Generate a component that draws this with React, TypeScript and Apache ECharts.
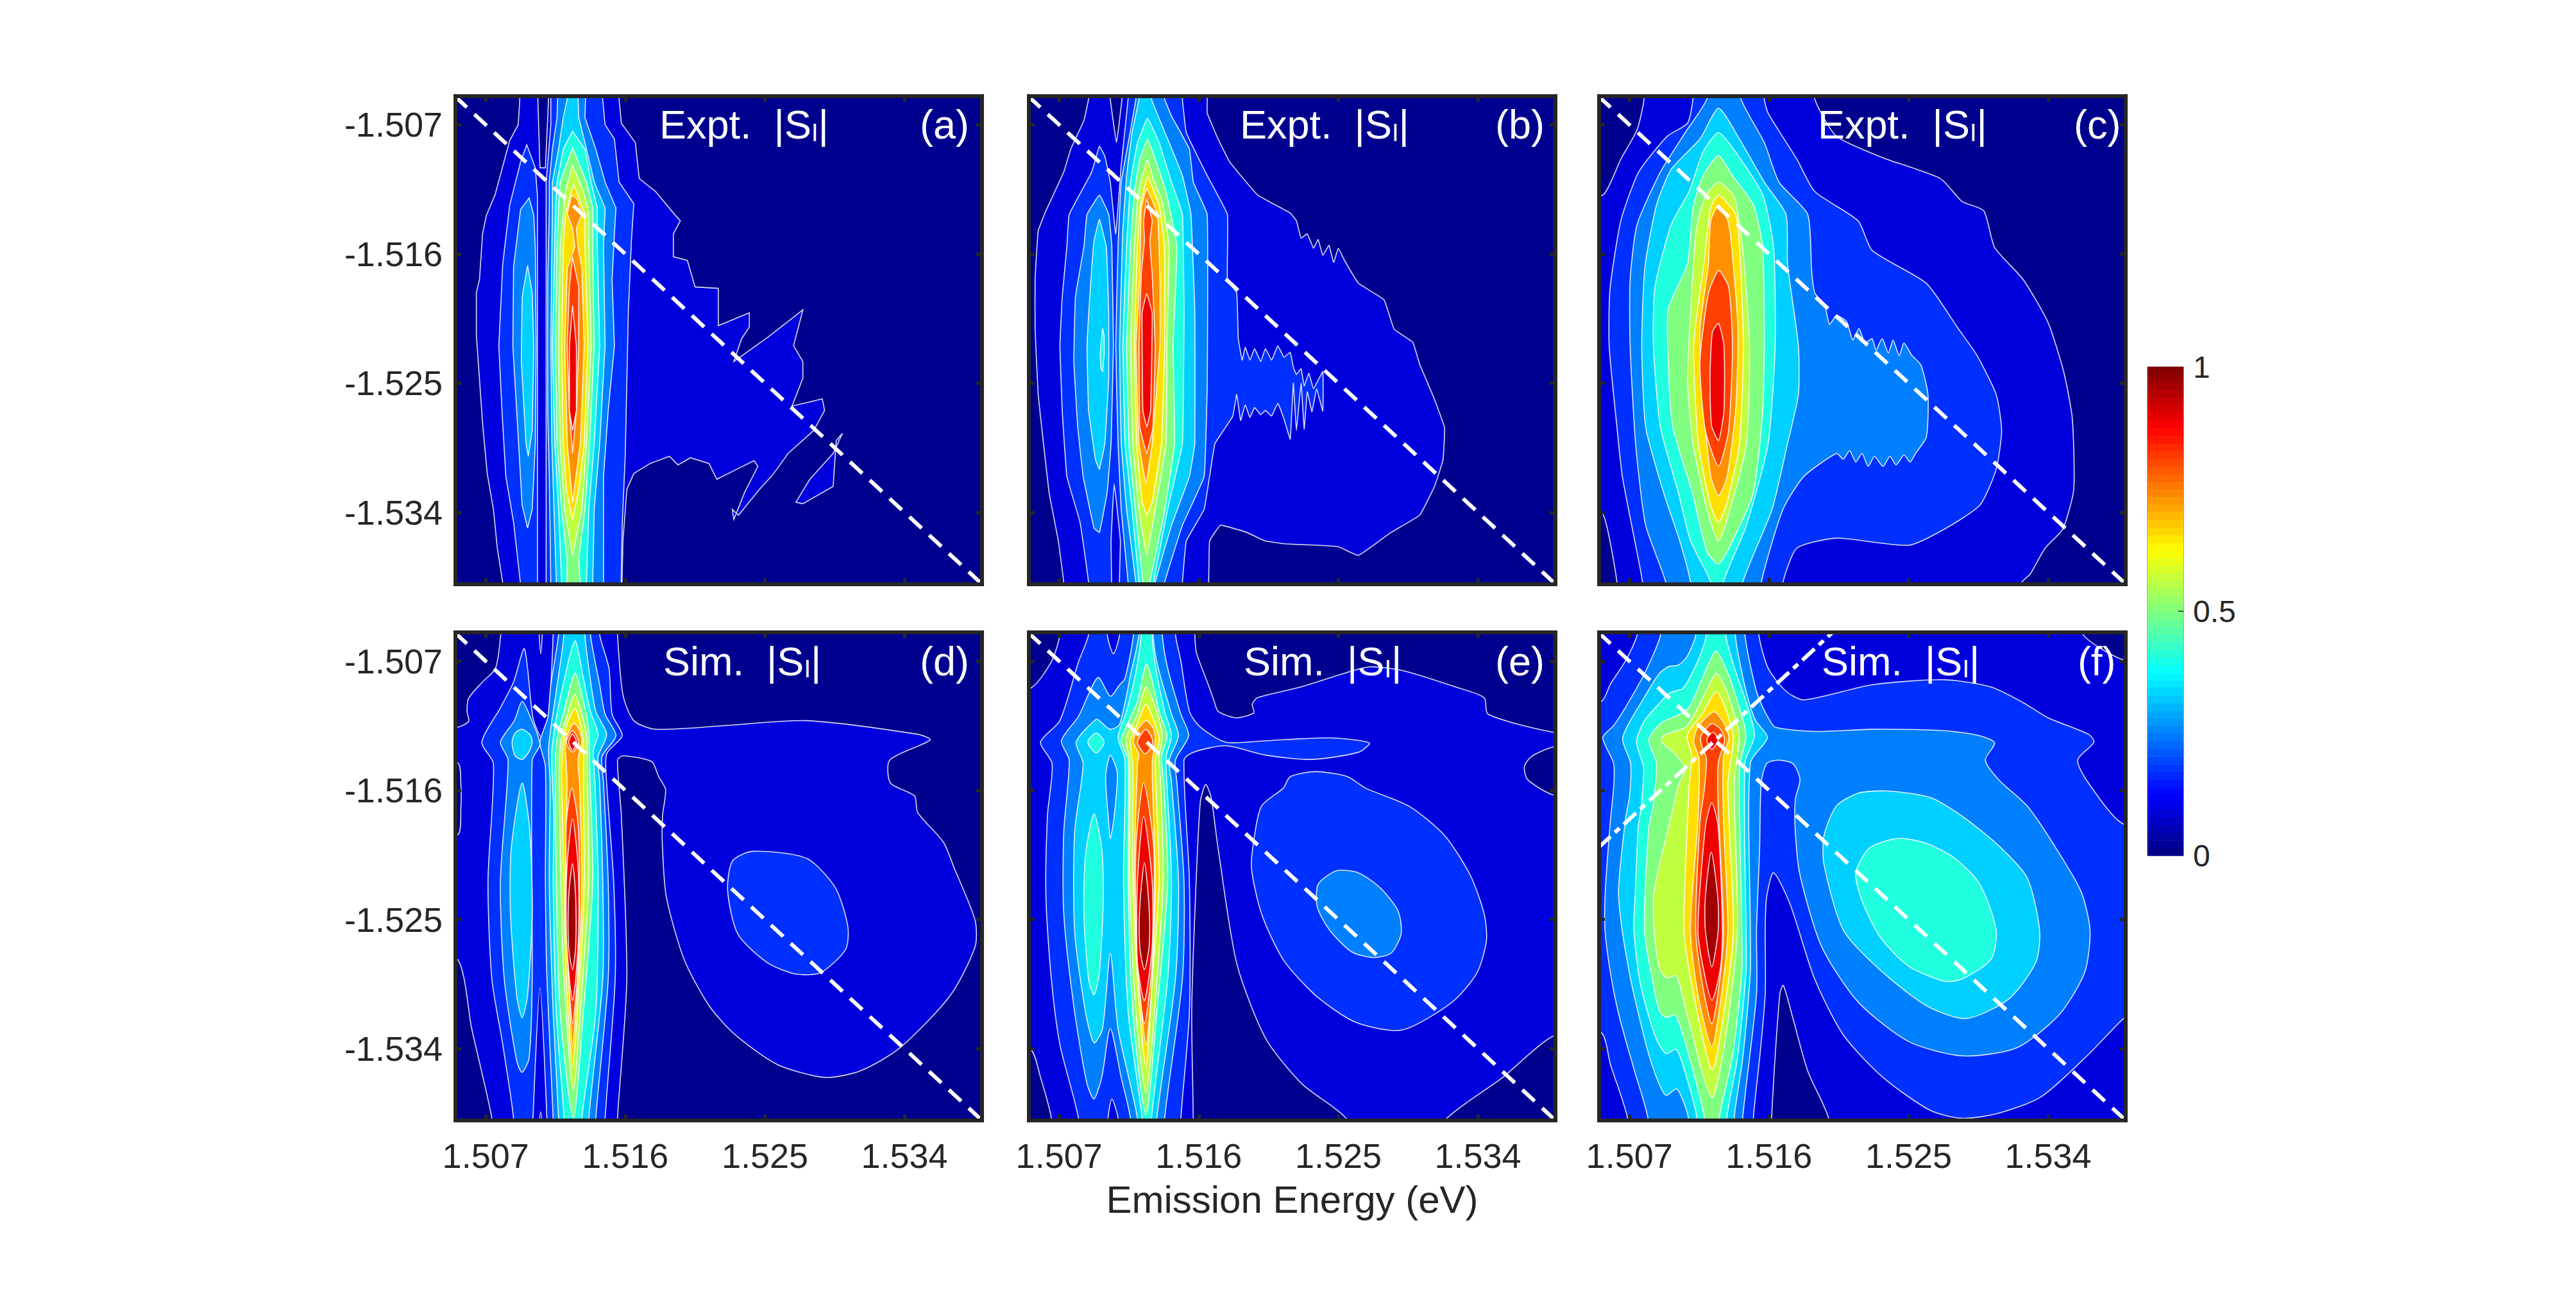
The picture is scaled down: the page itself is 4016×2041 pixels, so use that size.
import React, { useEffect, useRef } from 'react';
import * as echarts from 'echarts';

// contour points are flat lists of x,y in meV above 1.5 eV (emission, |excitation|)
type Contour = [number, number[]];

const energyTicks = [1.507, 1.516, 1.525, 1.534];
const colorbarLabels = [0, 0.5, 1];
const levelColors = ['#00008F', '#0000DC', '#0030FF', '#0080FF', '#00D0FF', '#20FFDF', '#80FF80', '#BFFF40', '#FFDF00', '#FF9000', '#FF4000', '#EE0000', '#A00000'];
const panelTitles = ['Expt.', 'Expt.', 'Expt.', 'Sim.', 'Sim.', 'Sim.'];
const panelTags = ['(a)', '(b)', '(c)', '(d)', '(e)', '(f)'];

const contoursA: Contour[] = [
  [1, [9.2,3, 9.2,5.2, 9.1,7, 8.55,8.1, 8.05,10.1, 7.6,11.9, 7.05,13.3, 6.8,14.6, 6.6,17.8, 6.4,18.7, 6.4,21.7, 6.6,24.7, 6.8,27.8, 7.1,31.3, 7.5,33.8, 7.75,36.5, 8.1,38.9, 8.1,41, 15.75,41, 15.85,36, 16.1,32.4, 16.55,31.3, 17.6,30.6, 18.85,30.1, 19.4,30.7, 20.2,30.2, 21.4,30.6, 21.9,31.7, 23,31.1, 24.3,30.4, 24.55,30.8, 23.7,32.6, 23,34.5, 22.9,33.8, 23.3,34.2, 24.65,32.4, 25.5,31.4, 26.5,29.9, 28.15,28.3, 28.85,26.9, 28.7,26.1, 26.75,26.6, 27.45,24.65, 27.45,23.5, 26.85,22.4, 27.45,19.9, 25.2,21.8, 23,23.5, 23.5,21.9, 24,21.1, 24,20.1, 22,21, 22,18.4, 20.5,18.3, 20,16.45, 19.1,16.2, 19.1,14.6, 19.55,13.7, 19.1,13.15, 17.95,11.65, 16.9,10.75, 16.65,8.25, 15.75,6.9, 15.6,5.2, 15.6,3]],
  [1, [27,33.3, 27.9,31.7, 29.4,29.9, 30,28.5, 29.6,29, 29.4,32.2, 27.45,33.4]],
  [0, [10.3,3, 11.15,3, 10.85,10, 10.5,10]],
  [2, [9.65,8.4, 9.25,9.6, 8.55,12.6, 8.1,16.7, 7.85,22.4, 8.05,26.9, 8.3,31.5, 8.8,34.7, 9.25,39, 9.3,41, 10.34,41, 10.34,12, 10.2,10]],
  [3, [9.8,12.1, 9.25,12.9, 8.8,16.9, 8.75,22.4, 9,26.9, 9.35,33.5, 9.7,35.1, 10,33.8, 10.2,29.2, 10.25,22.4, 10.2,15.5, 10.1,13.3]],
  [4, [9.7,16.8, 9.35,19, 9.3,23.5, 9.6,29.2, 9.75,30.1, 10,28.3, 10.1,22.4, 10,18.7]],
  [2, [11.2,3, 11.2,7, 10.9,11, 10.9,13, 10.9,41, 15.7,41, 15.8,35, 16,30, 16.1,25, 16.2,20, 16.4,15, 16.55,12.5, 15.6,11, 15.3,8, 14.7,7, 14.35,3]],
  [3, [11.7,3, 11.6,6.5, 11.3,8.7, 11.1,11, 11.1,13, 11,17.8, 11,22.4, 11,26.9, 11.1,31.5, 11.2,39, 11.2,41, 14.6,41, 14.6,31.5, 14.9,26.9, 15.3,22.4, 15.15,17.8, 15.3,14.6, 15.4,12.8, 14.7,11, 14.1,8.7, 13.4,6.5, 13.5,3]],
  [4, [12.26,3, 12.26,5.2, 12,6.5, 11.7,8.7, 11.3,11, 11.3,12.8, 11.27,15.5, 11.2,22.4, 11.27,29.2, 11.4,33.8, 11.56,39, 11.6,41, 13.9,41, 13.9,39, 14,33.8, 14.35,29.2, 14.7,22.4, 14.6,15.5, 14.7,12.8, 14,11, 13.5,8.7, 13,6.5, 12.96,5.2, 12.96,3]],
  [5, [12.6,7.45, 12,8.7, 11.6,11, 11.5,12.8, 11.45,15.5, 11.3,22.4, 11.45,29.2, 11.7,33.8, 11.9,39, 11.9,41, 13.5,41, 13.5,39, 13.65,33.8, 14,29.2, 14.35,22.4, 14.2,15.5, 14.2,12.8, 13.8,11, 13.4,8.7]],
  [6, [12.6,8.6, 11.8,11, 11.7,12.8, 11.6,15.5, 11.5,22.4, 11.6,29.2, 11.9,33.8, 12.25,37.3, 12.2,41, 13.2,41, 13,37.3, 13.4,33.8, 13.7,29.2, 14,22.4, 13.9,15.5, 13.9,12.8, 13.5,11]],
  [7, [12.6,9.85, 12.15,11.6, 12,13.2, 11.8,15.5, 11.7,22.4, 11.8,29.2, 12.1,33.8, 12.6,37, 13.2,33.8, 13.5,29.2, 13.8,22.4, 13.65,15.5, 13.65,13.2, 13.3,11.6]],
  [8, [12.65,11.1, 12.15,13.2, 12,15.5, 11.9,22.4, 12,29.2, 12.2,32.4, 12.6,34.5, 13,32.4, 13.35,29.2, 13.6,22.4, 13.4,15.5, 13.4,13.2]],
  [9, [12.55,11.9, 12.26,13.2, 12.6,14.2, 12.75,15.5, 12.26,17, 12.1,22.4, 12.26,29.2, 12.6,33.3, 13.1,29.2, 13.35,22.4, 13.2,17, 12.95,15.5, 12.85,14.2, 13.2,13.2, 12.9,12.2]],
  [10, [12.6,16.2, 12.4,18.3, 12.25,22.4, 12.4,26.9, 12.6,29.9, 12.85,26.9, 13,22.4, 13,18.3]],
  [11, [12.6,19.6, 12.4,22.4, 12.4,26.9, 12.6,28.3, 12.85,26.9, 12.85,22.4]],
];

const contoursB: Contour[] = [
  [1, [8.9,3, 8.9,5.2, 8.6,6.7, 7.75,8.7, 7.3,10.3, 6.15,13, 5.65,14.4, 5.45,17.8, 5.45,21.2, 5.65,25.8, 5.9,28.3, 6.35,32.6, 6.95,36, 7.3,38.9, 7.3,41, 16.45,41, 16.7,36, 17.4,34.9, 19.1,35.4, 20.3,36, 21.6,36.2, 23.75,36.3, 25,36.4, 26.3,37, 28.4,35.4, 30.25,34.2, 31.2,32.2, 31.75,30.35, 31.85,28.1, 31.15,26, 30.25,23.7, 29.8,22.15, 28.6,21.25, 27.95,19.2, 26.3,18.05, 25.4,16.45, 25,15.6, 24.7,16.6, 24.4,15.4, 24,16.1, 23.7,15, 23.4,15.6, 23,14.6, 22.6,14.9, 22.3,13.7, 21.9,13.15, 19.8,11.9, 18,9.6, 17.25,8, 16.55,6.2, 16.55,5.2, 16.55,3]],
  [0, [10.3,3, 10.3,5.2, 10.7,8.25, 11.05,5.2, 11.05,3]],
  [2, [9.6,8.5, 9.1,10.3, 7.65,13.25, 7.5,15.5, 7.2,19, 7.05,22.4, 7.2,26.9, 7.5,31.5, 8.35,34.7, 8.9,38.9, 8.9,41, 10.35,41, 10.35,36, 10.55,32, 10.95,36, 10.95,41, 14.95,41, 14.95,38.9, 15.2,36, 16.35,33.8, 16.7,31.5, 17.05,29.2, 17.75,28.05, 18.2,27.3, 18.45,25.8, 18.7,27.6, 19,26.5, 19.3,27.4, 19.6,26.7, 20,27.2, 20.3,26.9, 20.7,27.3, 21.1,26.4, 21.5,27.5, 21.9,28.9, 22.1,25, 22.3,28.3, 22.6,25, 22.8,28.2, 23,25.6, 23.3,27, 23.6,25.4, 24,26.95, 24,24.2, 23.4,25.4, 23.1,24.3, 22.8,25.2, 22.6,24, 22.3,24.4, 22.1,23.9, 21.9,22.85, 21.5,23.2, 21.1,22.4, 20.7,23.4, 20.3,22.6, 20,23.5, 19.6,22.6, 19.3,23.4, 19,22.5, 18.8,23.4, 18.55,21.9, 18.45,18.7, 17.85,17.8, 17.85,13.25, 16.55,10.55, 15.2,7.55, 14.95,5.2, 14.95,3, 11.45,3, 11.45,5.2, 11,9.85, 10.65,14.6, 10.3,11, 9.95,9.2]],
  [3, [9.6,11.9, 8.8,13.25, 8.6,15.5, 8.05,19, 7.95,23.5, 8.2,28.05, 8.55,31.5, 9.25,35.1, 9.6,35.4, 10.1,32.6, 10.35,29.2, 10.5,22.4, 10.4,15.5, 10.2,13.25]],
  [4, [9.6,13.6, 9.25,15.1, 9.05,17.8, 8.8,22.4, 8.9,26.9, 9.35,30.35, 9.6,31, 9.95,29.2, 10.2,24.65, 10.2,20.1, 10.05,15.55]],
  [5, [9.8,21.2, 9.65,23, 9.7,24, 9.8,24.2, 9.9,23, 9.9,21.7]],
  [3, [12,3, 11.95,5.2, 11.5,8, 11,11, 10.8,15.5, 10.65,22.4, 10.8,29.2, 11,33.8, 11.45,38.9, 11.45,41, 13.8,41, 13.8,38.9, 14.95,34.9, 16.35,31.5, 16.55,25, 16.55,13.25, 15.65,11, 15.4,8.7, 14.25,6.4, 13.8,5.2, 13.8,3]],
  [4, [12.15,3, 12.15,5.2, 11.7,7.55, 11.35,10.55, 11.1,14.4, 10.9,22.4, 11,29.2, 11.35,33.8, 11.95,38.9, 11.95,41, 13.2,41, 13.2,38.9, 14.25,34.9, 15.4,31.5, 15.75,29.2, 15.75,20.1, 15.5,13.25, 14.95,10.55, 14,8, 12.95,5.2, 12.95,3]],
  [5, [12.7,6.55, 12.05,8.25, 11.6,11, 11.35,15.5, 11.1,22.4, 11.25,29.2, 11.7,33.8, 12.15,38.9, 12.15,41, 13.1,41, 13.1,38.9, 14,33.8, 14.95,29.2, 15.05,20.1, 14.95,13.25, 14.25,11, 13.45,8.25]],
  [6, [12.7,8, 12.2,9.4, 11.85,11.7, 11.6,15.5, 11.35,22.4, 11.5,29.2, 11.95,34.2, 12.4,38.9, 12.4,41, 12.85,41, 12.85,38.9, 13.75,34.2, 14.45,29.2, 14.35,22.4, 14.6,15.5, 13.9,11.7, 13.2,9.4]],
  [7, [12.7,9.4, 12.3,10.75, 12.05,12.35, 11.85,15.5, 11.6,22.4, 11.75,29.2, 12.15,33.8, 12.65,37, 13.2,33.8, 13.9,29.2, 13.95,22.4, 14.1,15.5, 13.65,12.35, 13.05,10.75]],
  [8, [12.7,10.65, 12.25,12.6, 12.05,15.5, 11.85,22.4, 12,29.2, 12.35,33.3, 12.65,34.2, 13,33.3, 13.6,29.2, 13.8,22.4, 13.8,15.5, 13.45,12.6]],
  [9, [12.65,11.45, 12.3,12.8, 12.2,17.8, 11.95,22.4, 12.15,29.2, 12.6,32, 13,29.2, 13.5,22.4, 13.5,17.8, 13.35,13.25]],
  [10, [12.65,12.15, 12.45,13.7, 12.5,15.1, 12.3,17.4, 12.15,22.4, 12.2,28.05, 12.65,29.9, 13.05,28.05, 13.2,22.4, 13,17.4, 12.85,15.1, 13,13.7]],
  [11, [12.65,18.75, 12.35,20.1, 12.4,26.9, 12.65,28.05, 12.9,26.9, 13,20.1]],
];

const contoursC: Contour[] = [
  [1, [7.95,3, 7.95,5.2, 7.5,7.35, 6.45,9.4, 5.3,11.9, 3,12, 3,34, 5.2,34, 5.75,36, 6.2,38.9, 6.2,41, 32.3,41, 32.3,38.9, 32.85,38.3, 33.8,36.5, 34.95,35.15, 35.65,32.4, 35.55,27.4, 35,24.2, 34,20.8, 32.4,17.8, 30.55,15.55, 29.85,13, 28.45,12.35, 27.05,10.75, 23.35,9.3, 20.35,7.8, 18.95,5.2, 18.95,3]],
  [2, [11.1,3, 11.1,5.2, 10.75,6.9, 9.45,7.8, 7.6,10.3, 6.45,13.7, 5.75,18.5, 5.7,22.4, 6.2,28.05, 6.55,31.5, 7.35,36, 7.85,38.9, 7.85,41, 16.9,41, 16.9,38.9, 17.8,36.5, 20.35,35.8, 25,36.3, 27.35,35.15, 29.6,33.5, 30.65,31, 31,28.3, 30.65,25.8, 29.4,23.05, 28.2,21.2, 26.15,18.05, 22.65,15.75, 21.75,13.7, 18.95,11.65, 17.8,9.4, 15.95,6.2, 15.7,5.2, 15.7,3]],
  [3, [12,3, 12,5.2, 10.6,7.55, 9,10.3, 7.5,13.95, 7.05,17.8, 7.05,22.4, 7.4,29.2, 8.05,34.9, 9.35,38.9, 9.35,41, 15.5,41, 15.5,38.9, 16.9,33.8, 18.25,31.5, 20.35,29.9, 20.8,30.3, 21.2,29.7, 21.6,30.5, 22,29.9, 22.4,30.8, 22.8,30.1, 23.35,30.8, 23.8,30.1, 24.2,30.7, 24.7,30, 25.1,30.5, 25.45,29.9, 26.15,28.75, 26.25,25.8, 25.8,23.75, 25.2,23.05, 24.7,22.2, 24.4,23.1, 24,22, 23.7,22.9, 23.3,21.9, 22.9,22.7, 22.65,21.9, 22.2,22.2, 21.8,21.2, 21.4,22, 21,20.7, 20.35,20.3, 19.9,20.9, 19.6,19.6, 18.95,18.7, 18.75,17.15, 18.5,13.25, 16.65,11, 15.7,8.25, 14.2,5.2, 14.2,3]],
  [4, [12.75,5.85, 11.55,8, 9.7,10.1, 8.75,12.6, 8,16.95, 7.8,22.4, 8.05,28.05, 9.2,32.6, 10.25,36, 10.95,38.9, 10.95,41, 14.3,41, 14.3,38.9, 16.2,33.8, 17.2,29.2, 17.9,25.8, 17.9,22.4, 17.2,16.7, 17.1,13.25, 15.7,11, 14.1,8]],
  [5, [12.75,7.55, 11.75,8.9, 10.85,11.65, 9.7,13.95, 8.65,18.3, 8.55,22.4, 9,28.05, 10.15,32.6, 10.95,36, 12.25,38.9, 12.25,41, 13.05,41, 13.05,38.9, 14.55,34.9, 15.95,29.2, 16.4,22.4, 16.3,15.55, 15.6,11.9, 13.85,8.9]],
  [6, [12.75,9.15, 11.75,10.55, 11.1,12.8, 10.75,16.7, 9.5,19.85, 9.55,24.65, 9.8,28.05, 11.1,32.8, 12,36.75, 12.75,37.6, 13.65,36, 15,32.6, 15.6,26.9, 15.7,22.4, 15.6,15.55, 15,12.6, 13.65,10.55]],
  [7, [12.75,11, 11.9,12, 11.3,14.4, 10.95,20.1, 10.75,24.65, 11.1,29.2, 12,33.8, 12.75,36, 13.5,33.8, 14.55,29.2, 14.75,22.4, 14.3,15.55, 13.75,12]],
  [8, [12.75,11.9, 12.25,12.8, 11.8,16.7, 11.15,22.4, 11.45,29.2, 12.25,33.55, 12.75,34.7, 13.3,33.3, 14.1,29.2, 14.35,22.4, 14.1,15.55, 13.85,13.25]],
  [9, [12.75,12.6, 12.25,13.7, 12.1,16.7, 11.55,21.3, 11.8,26.9, 12.25,31.5, 12.75,32.85, 13.3,31.5, 13.85,26.9, 14,21.3, 13.6,15.55, 13.35,13.7]],
  [10, [12.75,17.15, 12.1,18.75, 11.55,23.55, 11.9,28.3, 12.75,30.8, 13.4,28.3, 13.65,22.4, 13.4,18.3]],
  [11, [12.75,20.85, 12.35,21.45, 12.2,24.7, 12.3,27.95, 12.75,29, 13.1,26.9, 13.1,22.4]],
];

const contoursD: Contour[] = [
  [1, [8,3, 7.97,5.13, 7.63,7.52, 6.8,8.45, 5.9,9.6, 5.8,10.5, 5.9,11.2, 5.2,11.6, 3,11.8, 3,14, 5.2,14.1, 5.4,15.5, 5.4,17.3, 5.2,19.1, 3,19.1, 3,27.8, 5.2,27.8, 6.1,32.6, 7.4,38.85, 7.5,41, 15.5,41, 15.5,38.85, 16.1,29.15, 15.75,17.8, 15.5,13.9, 15.85,13.6, 17.7,14, 18.15,15.05, 18.6,15.95, 18.4,17.8, 18.4,20.05, 18.65,23.45, 19.8,27.8, 21.4,31, 23.05,33, 25.8,35.1, 28.85,36, 31.15,35.55, 33.7,33.95, 36.95,30.3, 38.55,26.9, 38.55,25.05, 37.2,21.4, 36.5,19.6, 34.85,17.55, 34.65,16.4, 33.1,15.5, 33.05,13.9, 35.65,12.5, 34.85,12.1, 27.7,11.15, 22.35,11.5, 17.95,11.75, 16.55,11.15, 15.85,9.35, 15.5,5.15, 15.5,3]],
  [0, [10.4,3, 10.7,3, 10.55,6.5]],
  [0, [10.35,41, 10.7,41, 10.55,38.4]],
  [2, [24.2,20.25, 27.7,20.75, 29.55,22.8, 30.35,25.5, 30.2,27.1, 28.6,28.7, 27,28.8, 25.15,28, 23.25,26, 22.6,23, 22.9,20.95]],
  [2, [9.5,6.15, 8.8,8.45, 7.95,10.25, 6.75,12.65, 7.5,14.15, 7.15,22.35, 7.4,29.15, 8.1,33.7, 8.8,38.85, 8.8,41, 10.05,41, 10.05,38.85, 10.5,29.75, 10.95,38.85, 10.95,41, 14.7,41, 14.7,38.85, 15.35,29.15, 15.25,22.35, 14.8,15.5, 14.8,13.45, 15.8,12.2, 15.15,10.7, 14.95,7.5, 14.35,5.15, 14.35,3, 11.35,3, 11.35,5.15, 11.05,10.95, 10.6,12.3, 10.05,10.95]],
  [3, [9.35,9.8, 8.85,11.15, 7.95,12.65, 8.45,13.9, 7.95,22.35, 8.2,29.15, 9,34.85, 9.35,35.65, 9.8,34.65, 10,29.15, 10,13.9, 10.5,12.8, 9.9,10.95]],
  [4, [9.35,11.75, 8.9,12, 8.7,12.65, 8.9,13.6, 9.35,13.85, 9.8,13.3, 10,12.65, 9.85,12.1]],
  [4, [9.35,15.5, 8.65,20.05, 8.6,24.6, 9,30.3, 9.35,31.85, 9.7,30.3, 10,24.6, 9.85,18.9]],
  [3, [11.7,3, 11.7,5.15, 11.2,8.65, 11,10.95, 10.5,12.65, 10.85,14.35, 10.85,22.35, 10.95,29.15, 11.35,38.85, 11.35,41, 14.1,41, 14.1,38.85, 14.9,29.15, 14.9,22.35, 14.6,15.5, 14.5,13.65, 15.4,12.2, 14.7,10.7, 14.35,8.65, 13.75,5.15, 13.75,3]],
  [4, [12.05,3, 12.05,5.15, 11.55,9.1, 11.2,11.65, 11.05,13.2, 11.15,15.5, 11.1,22.35, 11.35,31.45, 11.7,38.85, 11.7,41, 13.65,41, 13.65,38.85, 14.55,29.15, 14.55,22.35, 14.35,15.5, 14.25,13.65, 14.8,12.1, 14.1,10.5, 13.65,7.5, 13.4,5.15, 13.4,3]],
  [5, [12.75,5.6, 11.9,9.1, 11.45,11.65, 11.25,13.65, 11.4,17.8, 11.35,22.35, 11.55,31.45, 12.05,38.85, 12.05,41, 13.3,41, 13.2,38.85, 14.1,31.45, 14.25,22.35, 14.05,15.5, 13.95,13.2, 14.25,12.1, 13.75,10.5, 13.3,8.2]],
  [6, [12.75,7.85, 12.05,10.5, 11.65,12.1, 11.5,13.65, 11.55,22.35, 11.8,31.45, 12.65,38.85, 13.3,31.45, 13.9,22.35, 13.7,14.35, 13.65,11.85, 13.3,9.8]],
  [7, [12.75,9.3, 12.2,10.95, 11.85,12.55, 11.75,14.35, 11.85,22.35, 12.05,29.15, 12.65,36.9, 13.25,29.15, 13.65,22.35, 13.55,14.35, 13.5,12.1, 13.2,10.7]],
  [8, [12.75,10.3, 12.25,11.4, 11.95,13.2, 11.9,15.5, 12.05,22.35, 12.2,29.15, 12.6,35.2, 13.05,29.15, 13.35,22.35, 13.3,15.5, 13.3,12.75, 13.05,11.15]],
  [9, [12.65,11.35, 12.15,12.55, 12.2,14.15, 12.25,15.5, 12.15,22.35, 12.35,29.15, 12.6,33.7, 12.95,29.15, 13.2,22.35, 13.05,15.5, 12.95,13.9, 13.2,12.55, 12.95,11.6]],
  [10, [12.6,11.85, 12.2,12.65, 12.6,13.35, 13,12.65]],
  [11, [12.6,12.1, 12.35,12.65, 12.6,13.2, 12.85,12.65]],
  [10, [12.55,15.85, 12.2,18.25, 12.2,22.35, 12.35,29.15, 12.6,32.25, 12.9,29.15, 13.05,22.35, 12.95,18.25]],
  [11, [12.6,18, 12.25,21.2, 12.2,25.75, 12.4,29.15, 12.6,30.65, 12.8,29.15, 13,25.75, 12.95,21.2]],
  [12, [12.6,21.1, 12.35,23.45, 12.35,26.9, 12.6,28.5, 12.8,26.9, 12.8,23.45]],
];

const contoursE: Contour[] = [
  [1, [7.05,3, 7.05,5.15, 6.5,7.05, 5.15,8.9, 3,8.9, 3,34.05, 5.15,34.05, 5.8,36, 6.5,38.85, 6.5,41, 15.65,41, 15.65,38.85, 15.55,31.45, 15.75,24.6, 16.1,16.85, 16.45,15.6, 16.8,16.5, 17.25,20.05, 18.45,28.05, 20.3,33.25, 22.65,36.45, 25.5,38.85, 26,41, 31,41, 32,38.85, 35.6,36, 38.8,33.15, 41,33, 41,16.5, 38.8,16.3, 37.2,15.25, 37,14.35, 37.45,13.65, 38.8,13, 41,12.8, 41,12, 38.8,11.95, 34.65,10.7, 34.4,9.55, 32.55,8.8, 29.1,7.65, 27,7.4, 25.4,7.85, 22.6,8.8, 19.8,9.55, 19.45,10, 19.55,10.6, 18.4,10.95, 17.25,10.5, 17,9.8, 16.55,8.45, 15.85,6.4, 15.75,5.15, 15.75,3]],
  [2, [21.9,15.05, 23.55,14.7, 25.6,15.05, 26.75,15.85, 29.55,17.1, 31.85,19.15, 33.5,21.9, 34.4,24.6, 34.55,26.45, 33.95,28.7, 32.35,30.75, 29.1,32.7, 26.1,32.15, 23.55,30.3, 21.45,27.8, 20.05,24.6, 19.4,21.4, 19.6,19.15, 20.05,17.1, 21.45,15.85]],
  [3, [24.9,21.6, 26.3,21.75, 27.7,22.8, 28.85,24.4, 29.05,26, 28.4,27.35, 27.25,27.65, 25.85,27.25, 24.45,25.75, 23.65,24.15, 23.7,22.55]],
  [2, [8.9,3, 8.9,5.15, 8.25,7.05, 7.05,11.15, 5.8,12.65, 6.55,14.15, 6.25,17.75, 6.15,23.45, 6.5,29.15, 7.05,33.7, 8.25,38.85, 8.25,41, 10.1,41, 10.15,38.85, 10.4,37.5, 10.8,38.85, 10.8,41, 14.85,41, 14.85,38.85, 15.4,31.45, 15.4,22.35, 15.05,13.9, 15.65,13.35, 17.75,12.9, 20.3,13.55, 23.3,13.85, 26.3,13.35, 27,12.7, 24.45,12.35, 20.3,12.55, 17.75,12.65, 16.1,11.6, 15.4,10.5, 14.85,7, 14.5,5.15, 14.5,3, 10.9,3, 10.9,5.15, 10.5,6.5, 10.1,5.15, 10.1,3]],
  [3, [9.5,8.15, 8.25,10.85, 7.15,12.55, 7.65,13.9, 7.3,18.9, 7.3,24.6, 8,31.45, 8.8,36.45, 9.25,37.5, 9.75,36, 10.3,32.6, 11,36, 11.6,38.85, 11.6,41, 13.8,41, 13.8,38.85, 14.95,29.15, 15.05,22.35, 14.6,15.5, 14.5,13.9, 15.35,12.2, 14.85,10.7, 14,7.5, 13.65,5.15, 13.65,3, 11.8,3, 11.8,5.15, 11.25,8.2, 10.9,8.65, 10.3,9.45]],
  [4, [9.4,11.05, 8.1,12.65, 8.55,14.15, 8,18.9, 8,25.75, 8.7,31.45, 9.25,33.6, 9.8,32.6, 10.3,27.35, 10.8,32.6, 12.05,38.85, 12.05,41, 13.3,41, 13.3,38.85, 14.5,29.15, 14.7,22.35, 14.25,15.5, 14.1,13.9, 14.7,12.2, 14.25,10.7, 13.35,7.3, 13.05,5.15, 13.05,3, 12.15,3, 12.15,5.15, 11.6,8, 10.9,11.4, 10.3,11.75, 9.75,11.3]],
  [3, [10.3,13.55, 10,15.05, 10.2,18.25, 10.3,19.35, 10.55,17.8, 10.75,14.8]],
  [5, [9.25,17.65, 8.7,20.5, 8.6,24.6, 8.9,29.15, 9.25,30.25, 9.6,28.7, 9.85,23.45, 9.75,20.05]],
  [5, [9.4,12, 8.85,12.65, 9.4,13.4, 9.9,12.65]],
  [5, [12.3,3, 12.3,5.15, 11.95,7.75, 11.35,10.5, 10.8,12.3, 11.25,13.9, 11.15,22.35, 11.45,31.45, 12.35,38.85, 12.35,41, 12.95,41, 12.95,38.85, 14,29.15, 14.25,22.35, 13.95,15.5, 13.9,13.65, 14.25,12.2, 13.8,10.5, 13.2,7.3, 13,5.15, 13,3]],
  [6, [12.65,7.2, 12.05,9.8, 11.5,11.15, 11,12.55, 11.45,13.9, 11.45,22.35, 11.75,31.45, 12.6,38.6, 13.3,31.45, 14,22.35, 13.75,15.5, 13.6,13.65, 13.95,12.2, 13.45,10.5]],
  [7, [12.6,8.8, 12.05,10.7, 11.3,12.4, 11.55,13.9, 11.55,22.35, 11.95,31.45, 12.6,37.15, 13.15,31.45, 13.7,22.35, 13.55,15.5, 13.45,13.65, 13.65,12.2, 13.35,10.7]],
  [8, [12.6,10, 12.05,11.4, 11.6,12.55, 11.75,14.35, 11.75,22.35, 12.05,29.15, 12.6,35.3, 13,29.15, 13.45,22.35, 13.2,13.9, 13.45,12.4, 13.1,11.15]],
  [9, [12.6,11.15, 11.95,11.95, 11.8,12.65, 12.15,13.55, 12.05,14.15, 11.85,22.35, 12.15,29.15, 12.6,33.7, 13,29.15, 13.2,22.35, 13,14.15, 13.2,12.55, 13.1,11.75]],
  [10, [12.6,11.75, 12.05,12.65, 12.55,13.45, 13.05,12.65]],
  [10, [12.45,15.5, 11.95,20.05, 12.05,28, 12.5,32.25, 13,28, 13.1,20.05]],
  [11, [12.45,17.8, 12.05,22.35, 12.05,28, 12.5,30.65, 13,26.9, 13,22.35]],
  [12, [12.5,21.05, 12.2,24.15, 12.2,26.9, 12.5,28.5, 12.8,26.9, 12.8,24.15]],
];

const contoursF: Contour[] = [
  [1, [3,3, 41,3, 41,41, 3,41]],
  [0, [36.25,3, 36.25,5.15, 38.9,6.95, 41,7, 41,3]],
  [0, [16.93,29.6, 16.7,30.2, 16.17,38.8, 16.17,41, 19.9,41, 19.85,38.85, 18.5,35.55, 17.55,31.9]],
  [2, [7.5,3, 7.5,5.18, 6.74,7, 5.78,8.6, 5.2,9.8, 3,10, 3,32.5, 5.2,32.9, 5.78,35.1, 6.88,38.8, 6.9,41, 15,41, 15,38.8, 15.4,34.65, 15.76,30.2, 15.76,25.72, 15.85,23.45, 16.3,21.75, 17.35,23.9, 18.95,29.15, 20.8,33.05, 23.35,36, 26.4,38.3, 28.45,38.85, 30.8,38.5, 33.55,37.35, 36.6,34.4, 38.85,31.9, 41,30, 41,17.6, 38.85,18.35, 36.6,15.5, 35.9,13.9, 36.95,12.65, 36.6,12.1, 34,10.95, 32.4,9.9, 30.3,8.8, 27.3,8.3, 22.65,8.65, 18.25,9.7, 17.1,9.1, 15.95,7.5, 15.35,5.18, 15.35,3]],
  [3, [9,3, 9.01,5.18, 7.98,7.86, 6.74,10.24, 5.98,11.5, 5.29,12.33, 5.98,14.11, 6,15.6, 5.78,18.1, 5.45,23, 5.43,25.72, 5.78,28.7, 6.33,31.67, 7.29,35.4, 8.19,38.8, 8.2,41, 14.31,41, 14.31,38.8, 15.2,30.2, 15.2,25.72, 15.4,20.05, 15.5,15.5, 15.85,14.15, 16.55,13.9, 17.55,14.15, 18,15.25, 17.7,16.65, 17.7,18.9, 18,21.9, 19.4,26.9, 21.75,30.75, 25,33.5, 28.45,34.5, 31.95,33.95, 34.7,31.65, 36.35,28.7, 36.7,25.75, 36.1,23, 34.25,19.6, 32.65,17.1, 30.8,15.25, 29.95,13.9, 30.55,12.7, 29.6,12.2, 27.3,11.85, 22.65,11.75, 18.95,11.9, 16.4,11.6, 15.97,10.98, 15.55,10.1, 15.14,8.9, 14.45,5.18, 14.45,3]],
  [4, [23.6,16.05, 26.4,16.5, 28.45,17.8, 30.8,19.85, 32.65,22.1, 33.45,25.75, 33.2,28, 31.45,30.55, 28.7,31.9, 26.15,31, 23.15,28.5, 20.8,25.75, 19.55,21.2, 19.55,19.15, 20.35,17.1, 21.75,16.2]],
  [5, [24.3,19.35, 26.15,19.7, 28,20.75, 29.6,22.55, 30.65,25.75, 30.3,27.8, 28.45,29.15, 27.3,29.3, 25,28.25, 23.15,26.2, 22,23.7, 21.6,21.75, 22.45,20.05]],
  [4, [11.28,3, 11.28,5.18, 10.73,6.67, 10.18,7.27, 9.5,7.4, 8.94,7.86, 7.98,9.5, 6.57,12.33, 7.08,14.11, 7.02,16.35, 6.74,18.1, 6.3,23, 6.53,25.72, 7,28.7, 7.29,30.2, 8.12,33.9, 8.8,36.14, 9.36,37.25, 10.04,36.8, 10.46,37.62, 10.8,38.8, 10.8,41, 13.76,41, 13.76,38.8, 14.31,34.65, 14.8,28.7, 14.8,25.72, 14.8,14.11, 15.9,12.33, 15.14,11.14, 14.66,9.65, 14.18,7.42, 13.83,5.18, 13.83,3]],
  [5, [11.97,3, 11.97,5.18, 11.42,6.97, 10.46,8.9, 9.63,9.2, 8.94,9.94, 7.98,11.14, 7.46,12.62, 7.91,14.4, 7.77,17.1, 7.57,18.58, 7.37,23.45, 7.29,25.72, 7.7,29.44, 8.67,33.16, 9.36,34.35, 10.04,34.05, 10.73,36.14, 11.35,38.8, 11.35,41, 13.28,41, 13.28,38.8, 13.97,34.65, 14.52,28.7, 14.52,25.72, 14.45,14.11, 15.07,12.18, 14.59,10.05, 13.76,7.42, 13.21,5.18, 13.21,3]],
  [6, [12.59,6.3, 11.84,7.86, 10.73,10.39, 9.08,11.29, 8.25,12.48, 8.74,14.11, 8.53,17.09, 8.25,18.58, 7.98,25.72, 8.39,28.7, 8.94,31.37, 9.36,31.82, 9.98,31.67, 10.73,34.05, 11.84,38.8, 11.84,41, 12.8,41, 12.8,38.8, 13.63,34.65, 14.25,28.7, 14.25,25.72, 14.1,14.4, 14.52,12.18, 14.04,10.05, 13.35,7.86]],
  [7, [12.59,7.86, 11.56,9.95, 10.66,11.58, 9.22,12.18, 9.08,12.62, 9.77,13.3, 10.6,14.41, 10.18,15.6, 9.63,18.1, 8.6,23, 8.6,25.72, 8.94,28.4, 9.43,29.07, 10.04,28.92, 10.73,31.67, 12.32,37.4, 13.21,33.16, 13.97,25.72, 13.76,15.6, 14.1,12.18, 13.76,10.67, 13.21,8.9]],
  [8, [12.59,9.13, 11.7,10.67, 10.73,12.18, 11.01,13.52, 10.87,15.6, 10.73,18.58, 10.53,25.72, 11.01,29.44, 12.32,35.47, 13.07,31.67, 13.7,25.72, 13.35,15.6, 13.7,12.18, 13.07,9.95]],
  [9, [12.45,10.54, 11.42,11.58, 11.15,12.62, 11.49,13.8, 11.42,18.1, 10.94,25.72, 11.42,30.2, 12.32,33.83, 12.94,30.2, 13.35,25.72, 13.07,18.1, 13.07,13.66, 13.42,12.33, 13.07,11.28]],
  [10, [12.32,11.36, 11.63,12.18, 11.63,12.77, 11.97,13.8, 11.84,15.9, 11.56,18.1, 11.28,25.72, 11.7,29.44, 12.32,32.27, 12.8,29.44, 13.07,25.72, 12.73,17.09, 12.73,14.11, 13.14,12.47, 12.87,11.73]],
  [11, [12.39,11.96, 12,12.48, 12.32,13.15, 12.73,12.48]],
  [11, [12.32,16.87, 11.9,18.58, 11.42,25.72, 11.77,28.4, 12.32,30.63, 12.87,28.4, 13,25.72, 12.73,18.58]],
  [12, [12.28,20.3, 11.9,23.45, 11.9,25.72, 12.32,28.3, 12.73,25.72, 12.7,23.45]],
];

const panelContours = [contoursA, contoursB, contoursC, contoursD, contoursE, contoursF];
const panelSmooth = [0, 0.08, 0.2, 0.25, 0.25, 0.25];
const diagonalLine = [[1.505, -1.505], [1.539, -1.539]];
const crossDiagonalLine = [[1.505, -1.52], [1.5201, -1.505]];

const INK = '#262626';
const FONT = '"Liberation Sans", Arial, sans-serif';
const X_RANGE = [1.50505, 1.539];
const Y_RANGE = [-1.539, -1.505];
const GRID_W = 821;
const GRID_H = 761;
const gridLefts = [710, 1604, 2493];
const gridTops = [149.7, 986];
const titleLefts = [1023, 1928, 2829, 1029, 1934, 2835];
const tagLefts = [1429, 2326, 3228, 1429, 2326, 3234];

function jet(t: number) {
  const c = (v: number) => Math.round(255 * Math.max(0, Math.min(1, v)));
  return `rgb(${c(1.5 - Math.abs(4 * t - 3))},${c(1.5 - Math.abs(4 * t - 2))},${c(1.5 - Math.abs(4 * t - 1))})`;
}

function contourSeries(contours: Contour[], axisIndex: number, smooth: number) {
  return {
    type: 'custom',
    xAxisIndex: axisIndex,
    yAxisIndex: axisIndex,
    clip: true,
    z: 2,
    silent: true,
    data: contours.map(() => [1.52, -1.52]),
    renderItem: (params: any, api: any) => {
      const [level, flat] = contours[params.dataIndex];
      const points: number[][] = [];
      for (let i = 0; i < flat.length; i += 2) {
        points.push(api.coord([1.5 + flat[i] / 1000, -1.5 - flat[i + 1] / 1000]));
      }
      return {
        type: 'polygon',
        shape: { points, smooth },
        style: { fill: levelColors[level], stroke: 'rgba(255,255,255,0.85)', lineWidth: 1.6 },
      };
    },
  };
}

function dashedSeries(data: number[][], axisIndex: number, dash: number[], width: number) {
  return {
    type: 'line',
    xAxisIndex: axisIndex,
    yAxisIndex: axisIndex,
    data,
    z: 3,
    silent: true,
    showSymbol: false,
    clip: true,
    lineStyle: { color: '#fff', width, type: dash },
  };
}

function panelAxis(range: number[], position: string, showLabel: boolean, format: (v: number) => string) {
  return {
    type: 'value',
    position,
    min: range[0],
    max: range[1],
    z: 10,
    splitLine: { show: false },
    axisLine: { onZero: false, lineStyle: { color: INK, width: 6, cap: 'square' } },
    axisTick: { inside: true, length: 9, lineStyle: { color: INK, width: 5 }, customValues: range[0] < 0 ? energyTicks.map((v) => -v) : energyTicks },
    axisLabel: {
      show: showLabel,
      customValues: range[0] < 0 ? energyTicks.map((v) => -v) : energyTicks,
      formatter: format,
      fontFamily: FONT,
      fontSize: 54,
      color: INK,
      margin: position === 'left' ? 20 : 28,
    },
  };
}

function App() {
  const chartRef = useRef<HTMLDivElement>(null);

  useEffect(() => {
    document.body.style.margin = '0';
    if (!chartRef.current) return;
    const chart = echarts.init(chartRef.current, null, { renderer: 'svg' });

    const grids: any[] = [];
    const xAxes: any[] = [];
    const yAxes: any[] = [];
    const series: any[] = [];
    const titles: any[] = [];

    panelContours.forEach((contours, i) => {
      const col = i % 3;
      const row = i < 3 ? 0 : 1;
      const fmt = (v: number) => v.toFixed(3);
      grids.push({ left: gridLefts[col], top: gridTops[row], width: GRID_W, height: GRID_H, show: true, backgroundColor: levelColors[0], borderWidth: 0 });
      grids.push({ left: gridLefts[col], top: gridTops[row], width: GRID_W, height: GRID_H });
      const bottom: any = panelAxis(X_RANGE, 'bottom', row === 1, fmt);
      bottom.gridIndex = i * 2;
      if (i === 4) {
        bottom.name = 'Emission Energy (eV)';
        bottom.nameLocation = 'middle';
        bottom.nameGap = 93;
        bottom.nameTextStyle = { fontFamily: FONT, fontSize: 60, color: INK };
      }
      const top: any = panelAxis(X_RANGE, 'top', false, fmt);
      top.gridIndex = i * 2 + 1;
      const left: any = panelAxis(Y_RANGE, 'left', col === 0, fmt);
      left.gridIndex = i * 2;
      const right: any = panelAxis(Y_RANGE, 'right', false, fmt);
      right.gridIndex = i * 2 + 1;
      xAxes.push(bottom, top);
      yAxes.push(left, right);
      series.push(contourSeries(contours, i * 2, panelSmooth[i]));
      series.push(dashedSeries(diagonalLine, i * 2, [26, 16], 6));
      if (i === 5) series.push(dashedSeries(crossDiagonalLine, i * 2, [26, 9, 10, 9], 6));

      titles.push({
        left: titleLefts[i],
        top: gridTops[row] + 8,
        text: `{m|${panelTitles[i]}  |S}{s|I}{m||}`,
        textStyle: {
          fontWeight: 'normal',
          rich: {
            m: { fontFamily: FONT, fontSize: 63, fontWeight: 'normal', color: '#fff' },
            s: { fontFamily: FONT, fontSize: 38, fontWeight: 'normal', color: '#fff', verticalAlign: 'bottom', padding: [22, 0, 0, 0] },
          },
        },
      });
      titles.push({
        left: tagLefts[i],
        top: gridTops[row] + 8,
        text: panelTags[i],
        textStyle: { fontFamily: FONT, fontSize: 63, fontWeight: 'normal', color: '#fff' },
      });
    });

    // colour bar
    const cbGrid = grids.length;
    grids.push({ left: 3348, top: 572, width: 56, height: 762, show: true, borderColor: '#555', borderWidth: 1 });
    xAxes.push({ type: 'value', gridIndex: cbGrid, min: 0, max: 1, show: false });
    yAxes.push({
      type: 'value',
      gridIndex: cbGrid,
      position: 'right',
      min: 0,
      max: 1,
      z: 10,
      splitLine: { show: false },
      axisLine: { show: false, onZero: false },
      axisTick: { inside: true, length: 8, lineStyle: { color: INK, width: 1.5 }, customValues: [0.5] },
      axisLabel: {
        customValues: colorbarLabels,
        formatter: (v: number) => String(v),
        fontFamily: FONT,
        fontSize: 48,
        color: INK,
        margin: 15,
      },
    });
    series.push({
      type: 'custom',
      xAxisIndex: xAxes.length - 1,
      yAxisIndex: yAxes.length - 1,
      z: 2,
      silent: true,
      data: Array.from({ length: 64 }, (_, i) => [0.5, i / 64]),
      renderItem: (params: any, api: any) => {
        const i = params.dataIndex;
        const a = api.coord([0, i / 64]);
        const b = api.coord([1, (i + 1) / 64]);
        return {
          type: 'rect',
          shape: { x: a[0], y: b[1], width: b[0] - a[0], height: a[1] - b[1] + 0.6 },
          style: { fill: jet((i + 0.5) / 64) },
        };
      },
    });

    chart.setOption({
      animation: false,
      backgroundColor: '#fff',
      title: titles,
      grid: grids,
      xAxis: xAxes,
      yAxis: yAxes,
      series,
    });

    return () => {
      chart.dispose();
    };
  }, []);

  return <div ref={chartRef} style={{ width: 4016, height: 2041 }} />;
}

export default App;
